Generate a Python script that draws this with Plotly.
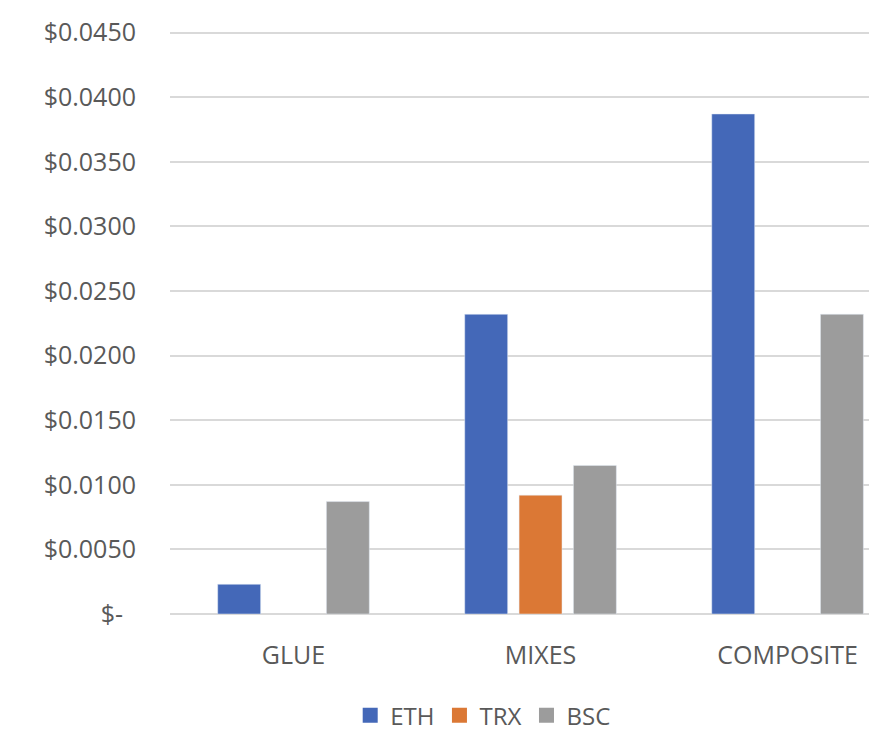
import plotly.graph_objects as go

categories = ["GLUE", "MIXES", "COMPOSITE"]
eth = [0.0023, 0.0232, 0.0387]
trx = [None, 0.0092, None]
bsc = [0.0087, 0.0115, 0.0232]

y_ticks = [0.0, 0.005, 0.01, 0.015, 0.02, 0.025, 0.03, 0.035, 0.04, 0.045]
y_labels = ["$-\u00a0\u00a0", "$0.0050", "$0.0100", "$0.0150", "$0.0200",
            "$0.0250", "$0.0300", "$0.0350", "$0.0400", "$0.0450"]

series = [("ETH", eth, "#4468B8"), ("TRX", trx, "#DB7835"), ("BSC", bsc, "#9C9C9C")]

font_grey = "#595959"
fs = 25

fig = go.Figure()
for name, vals, col in series:
    fig.add_trace(go.Bar(name=name, x=categories, y=vals, marker_color=col,
                         showlegend=False))
# legend entries with bigger square keys
for name, vals, col in series:
    fig.add_trace(go.Scatter(name=name, x=[None], y=[None], mode="markers",
                             marker=dict(symbol="square", size=15, color=col)))

# page body has an 8px margin, so the figure is sized to fit the window
fig.update_layout(
    width=869, height=725,
    barmode="group", bargap=0.34, bargroupgap=0.21,
    plot_bgcolor="white", paper_bgcolor="white",
    margin=dict(l=162, r=0, t=22, b=119, autoexpand=False),
    font=dict(family="Open Sans", size=fs, color=font_grey),
    legend=dict(orientation="h", x=0.443, xanchor="center", y=-0.1355, yanchor="top",
                font=dict(size=24, color=font_grey), itemwidth=30,
                traceorder="normal"),
    showlegend=True,
)
fig.update_xaxes(range=[-0.5, 2.362], showline=False, ticks="", automargin=False,
                 tickfont=dict(size=fs, color=font_grey), ticklabelstandoff=24)
fig.update_yaxes(range=[0, 0.0452], tickvals=y_ticks, ticktext=y_labels,
                 showgrid=True, gridcolor="#D9D9D9", gridwidth=2, automargin=False,
                 zeroline=True, zerolinecolor="#D9D9D9", zerolinewidth=2,
                 tickfont=dict(size=fs, color=font_grey), ticklabelstandoff=33)

fig.write_html("out.html")
